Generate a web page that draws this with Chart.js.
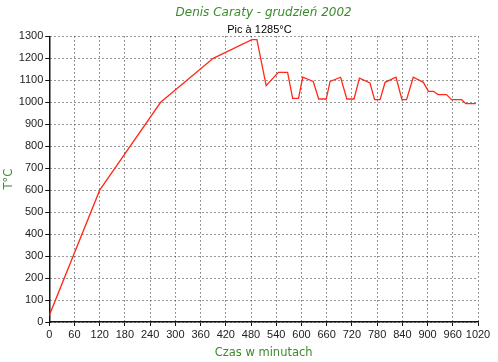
<!DOCTYPE html>
<html>
<head>
<meta charset="utf-8">
<script src="https://cdn.jsdelivr.net/npm/chart.js@4"></script>
<style>
  html, body { margin: 0; padding: 0; background: #fff; }
  #wrap { width: 498px; height: 362px; }
</style>
</head>
<body>
<div id="wrap"><canvas id="firing-chart"></canvas></div>
<script>
// firing curve (minutes, degrees C)
const minutes = [0, 120, 265, 390, 482, 494, 516, 545, 567, 579, 593, 603, 628, 641, 659, 668, 693, 708, 725, 738, 763, 774, 787, 799, 825, 839, 850, 866, 890, 902, 914, 925, 945, 957, 981, 991, 1015];
const temps = [30, 600, 1000, 1200, 1285, 1285, 1076, 1136, 1136, 1018, 1018, 1114, 1095, 1015, 1015, 1095, 1114, 1015, 1015, 1110, 1088, 1012, 1012, 1091, 1114, 1012, 1012, 1114, 1091, 1050, 1050, 1035, 1035, 1012, 1012, 994, 994];
const peakNote = "Pic à 1285°C";
const peakAt = 500;

const GREEN = "#3a8c2c";

// writes the peak note just above the plot
const peakLabel = {
  id: "peakLabel",
  afterDraw(chart) {
    const ctx = chart.ctx;
    const x = chart.scales.x.getPixelForValue(peakAt);
    ctx.save();
    ctx.font = "11px 'Liberation Sans', Arial, sans-serif";
    ctx.fillStyle = "#000";
    ctx.textAlign = "center";
    ctx.textBaseline = "bottom";
    ctx.fillText(peakNote, x, chart.chartArea.top - 1);
    ctx.restore();
  },
};

const plain = (v) => String(v);

const ctx = document.getElementById("firing-chart");
new Chart(ctx, {
  type: "line",
  data: {
    datasets: [
      {
        data: minutes.map((m, i) => ({ x: m, y: temps[i] })),
        borderColor: "#ff2a1a",
        borderWidth: 1.3,
        pointRadius: 0,
        tension: 0,
        fill: false,
      },
    ],
  },
  plugins: [peakLabel],
  options: {
    responsive: true,
    maintainAspectRatio: false,
    animation: false,
    layout: { padding: { left: 2, right: 20, top: 0, bottom: 2 } },
    plugins: {
      legend: { display: false },
      tooltip: { enabled: false },
      title: {
        display: true,
        fullSize: false,
        text: "Denis Caraty - grudzień 2002",
        color: GREEN,
        font: { family: "'DejaVu Sans', Verdana, sans-serif", size: 12, style: "italic", weight: "normal" },
        padding: { top: 6, bottom: 16 },
      },
    },
    scales: {
      x: {
        type: "linear",
        min: 0,
        max: 1020,
        border: { display: true, color: "#111", width: 1.5, dash: [1, 3] },
        grid: { color: "#333", lineWidth: 1, tickColor: "#111", tickLength: 4, tickBorderDash: [] },
        ticks: {
          stepSize: 60,
          autoSkip: false,
          maxRotation: 0,
          padding: 2,
          color: "#222",
          callback: plain,
          font: { family: "'Liberation Sans', Arial, sans-serif", size: 11 },
        },
        title: {
          display: true,
          text: "Czas w minutach",
          color: GREEN,
          font: { family: "'DejaVu Sans', Verdana, sans-serif", size: 11.5 },
          padding: { top: 3, bottom: 0 },
        },
      },
      y: {
        min: 0,
        max: 1300,
        border: { display: true, color: "#111", width: 1.5, dash: [1, 3] },
        grid: { color: "#333", lineWidth: 1, tickColor: "#111", tickLength: 4, tickBorderDash: [] },
        ticks: {
          stepSize: 100,
          autoSkip: false,
          padding: 2,
          color: "#222",
          callback: plain,
          font: { family: "'Liberation Sans', Arial, sans-serif", size: 11 },
        },
        title: {
          display: true,
          text: "T°C",
          color: GREEN,
          font: { family: "'DejaVu Sans', Verdana, sans-serif", size: 11.5 },
          padding: { top: 0, bottom: 1 },
        },
      },
    },
  },
});
</script>
</body>
</html>
